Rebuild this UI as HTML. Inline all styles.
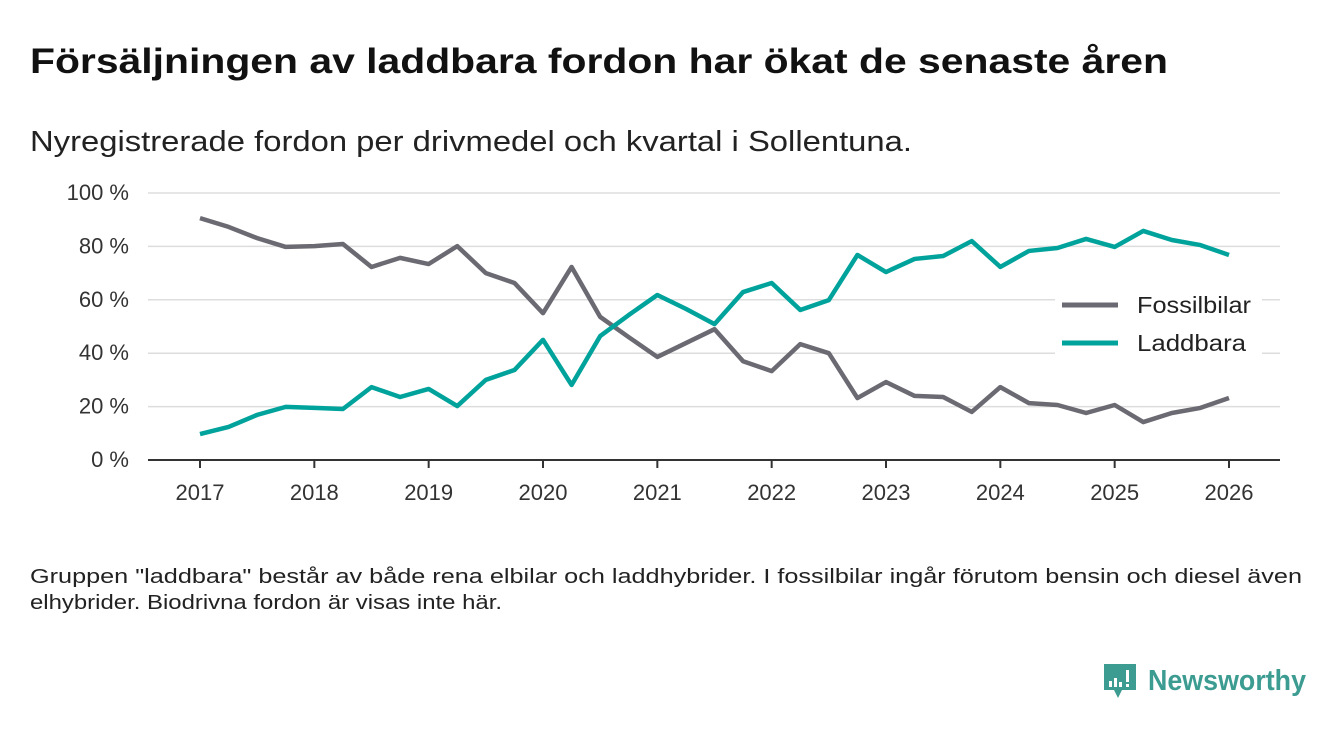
<!DOCTYPE html>
<html><head><meta charset="utf-8"><style>
body{margin:0;background:#fff;font-family:"Liberation Sans",sans-serif;}
#wrap{position:relative;width:1340px;height:733px;overflow:hidden;}
</style></head><body>
<div id="wrap">
<svg id="svg" width="1340" height="733" xmlns="http://www.w3.org/2000/svg">
<text x="30" y="73" font-size="35" font-weight="bold" fill="#111" textLength="1138" lengthAdjust="spacingAndGlyphs">Försäljningen av laddbara fordon har ökat de senaste åren</text>
<text x="30" y="151" font-size="29" fill="#222" textLength="882" lengthAdjust="spacingAndGlyphs">Nyregistrerade fordon per drivmedel och kvartal i Sollentuna.</text>
<g id="grid"></g>
<g id="yt"></g>
<g id="xt"></g>
<g id="lines"></g>
<g>
<rect x="1055" y="285" width="207" height="75" fill="#fff"/>
<line x1="1062" y1="305" x2="1118" y2="305" stroke="#6b6a72" stroke-width="5"/>
<text x="1137" y="313" font-size="23" fill="#222" textLength="114" lengthAdjust="spacingAndGlyphs">Fossilbilar</text>
<line x1="1062" y1="343" x2="1118" y2="343" stroke="#00a39b" stroke-width="5"/>
<text x="1137" y="351" font-size="23" fill="#222" textLength="109" lengthAdjust="spacingAndGlyphs">Laddbara</text>
</g>
<text x="30" y="583" font-size="20" fill="#222" textLength="1272" lengthAdjust="spacingAndGlyphs">Gruppen "laddbara" består av både rena elbilar och laddhybrider. I fossilbilar ingår förutom bensin och diesel även</text>
<text x="30" y="609" font-size="20" fill="#222" textLength="472" lengthAdjust="spacingAndGlyphs">elhybrider. Biodrivna fordon är visas inte här.</text>
<g>
<path d="M1104 664 h32 v26 h-14 l-4 8 l-4 -8 h-10 z" fill="#3d9c92"/>
<rect x="1109" y="681" width="3" height="6" fill="#fff"/><rect x="1114" y="678" width="3" height="9" fill="#fff"/><rect x="1119" y="682" width="3" height="5" fill="#fff"/><rect x="1126" y="670" width="3" height="12" fill="#fff"/><rect x="1126" y="684" width="3" height="3" fill="#fff"/>
<text x="1148" y="690" font-size="29" font-weight="bold" fill="#3d9c92" textLength="158" lengthAdjust="spacingAndGlyphs">Newsworthy</text>
</g>
</svg>
</div>
<script>
const years=["2017","2018","2019","2020","2021","2022","2023","2024","2025","2026"];
const yTicks=[0,20,40,60,80,100];
const fossil=[90.6,87.3,83.1,79.8,80.1,80.9,72.3,75.7,73.4,80.1,70,66.3,55,72.3,53.6,46,38.6,43.8,49,37,33.3,43.4,40,23.2,29.2,24,23.6,18,27.3,21.3,20.6,17.6,20.6,14.2,17.6,19.5,23.2];
const laddbara=[9.7,12.4,16.9,19.9,19.5,19.1,27.3,23.6,26.6,20.2,30,33.7,45,28.1,46.4,54.3,61.8,56.6,50.9,62.9,66.3,56.2,59.9,76.8,70.4,75.3,76.4,82,72.3,78.3,79.4,82.8,79.8,85.8,82.4,80.5,76.8];
const NS="http://www.w3.org/2000/svg";
const x0=200,x1=1229,y0=460,y1=193;
const xs=i=>x0+(x1-x0)*i/(4*(years.length-1));
const ys=v=>y0-(y0-y1)*v/100;
function mk(t,a,p){const e=document.createElementNS(NS,t);for(const k in a)e.setAttribute(k,a[k]);document.getElementById(p).appendChild(e);return e;}
yTicks.forEach(v=>{
  const l=mk('line',{x1:148,x2:1280,y1:ys(v),y2:ys(v),stroke:v===0?'#333':'#ddd','stroke-width':v===0?2:1.5},'grid');
  
  
  const t=mk('text',{x:129,y:ys(v)+7,'text-anchor':'end','font-size':22,fill:'#333'},'yt');
  t.textContent=v+' %';
  
  
});
years.forEach((y,i)=>{
  const x=xs(i*4);
  const l=mk('line',{x1:x,x2:x,y1:460,y2:468,stroke:'#333','stroke-width':2},'xt');
  
  
  const t=mk('text',{x:x,y:500,'text-anchor':'middle','font-size':22,fill:'#333'},'xt');
  t.textContent=y;
  
  
});
function line(d,c,n){
  const p=mk('polyline',{points:d.map((v,i)=>xs(i)+','+ys(v)).join(' '),fill:'none',stroke:c,'stroke-width':4.5,'stroke-linejoin':'round'},'lines');
  
  
}
line(fossil,'#6b6a72','fossilbilar-line');
line(laddbara,'#00a39b','laddbara-line');
</script>
</body></html>
